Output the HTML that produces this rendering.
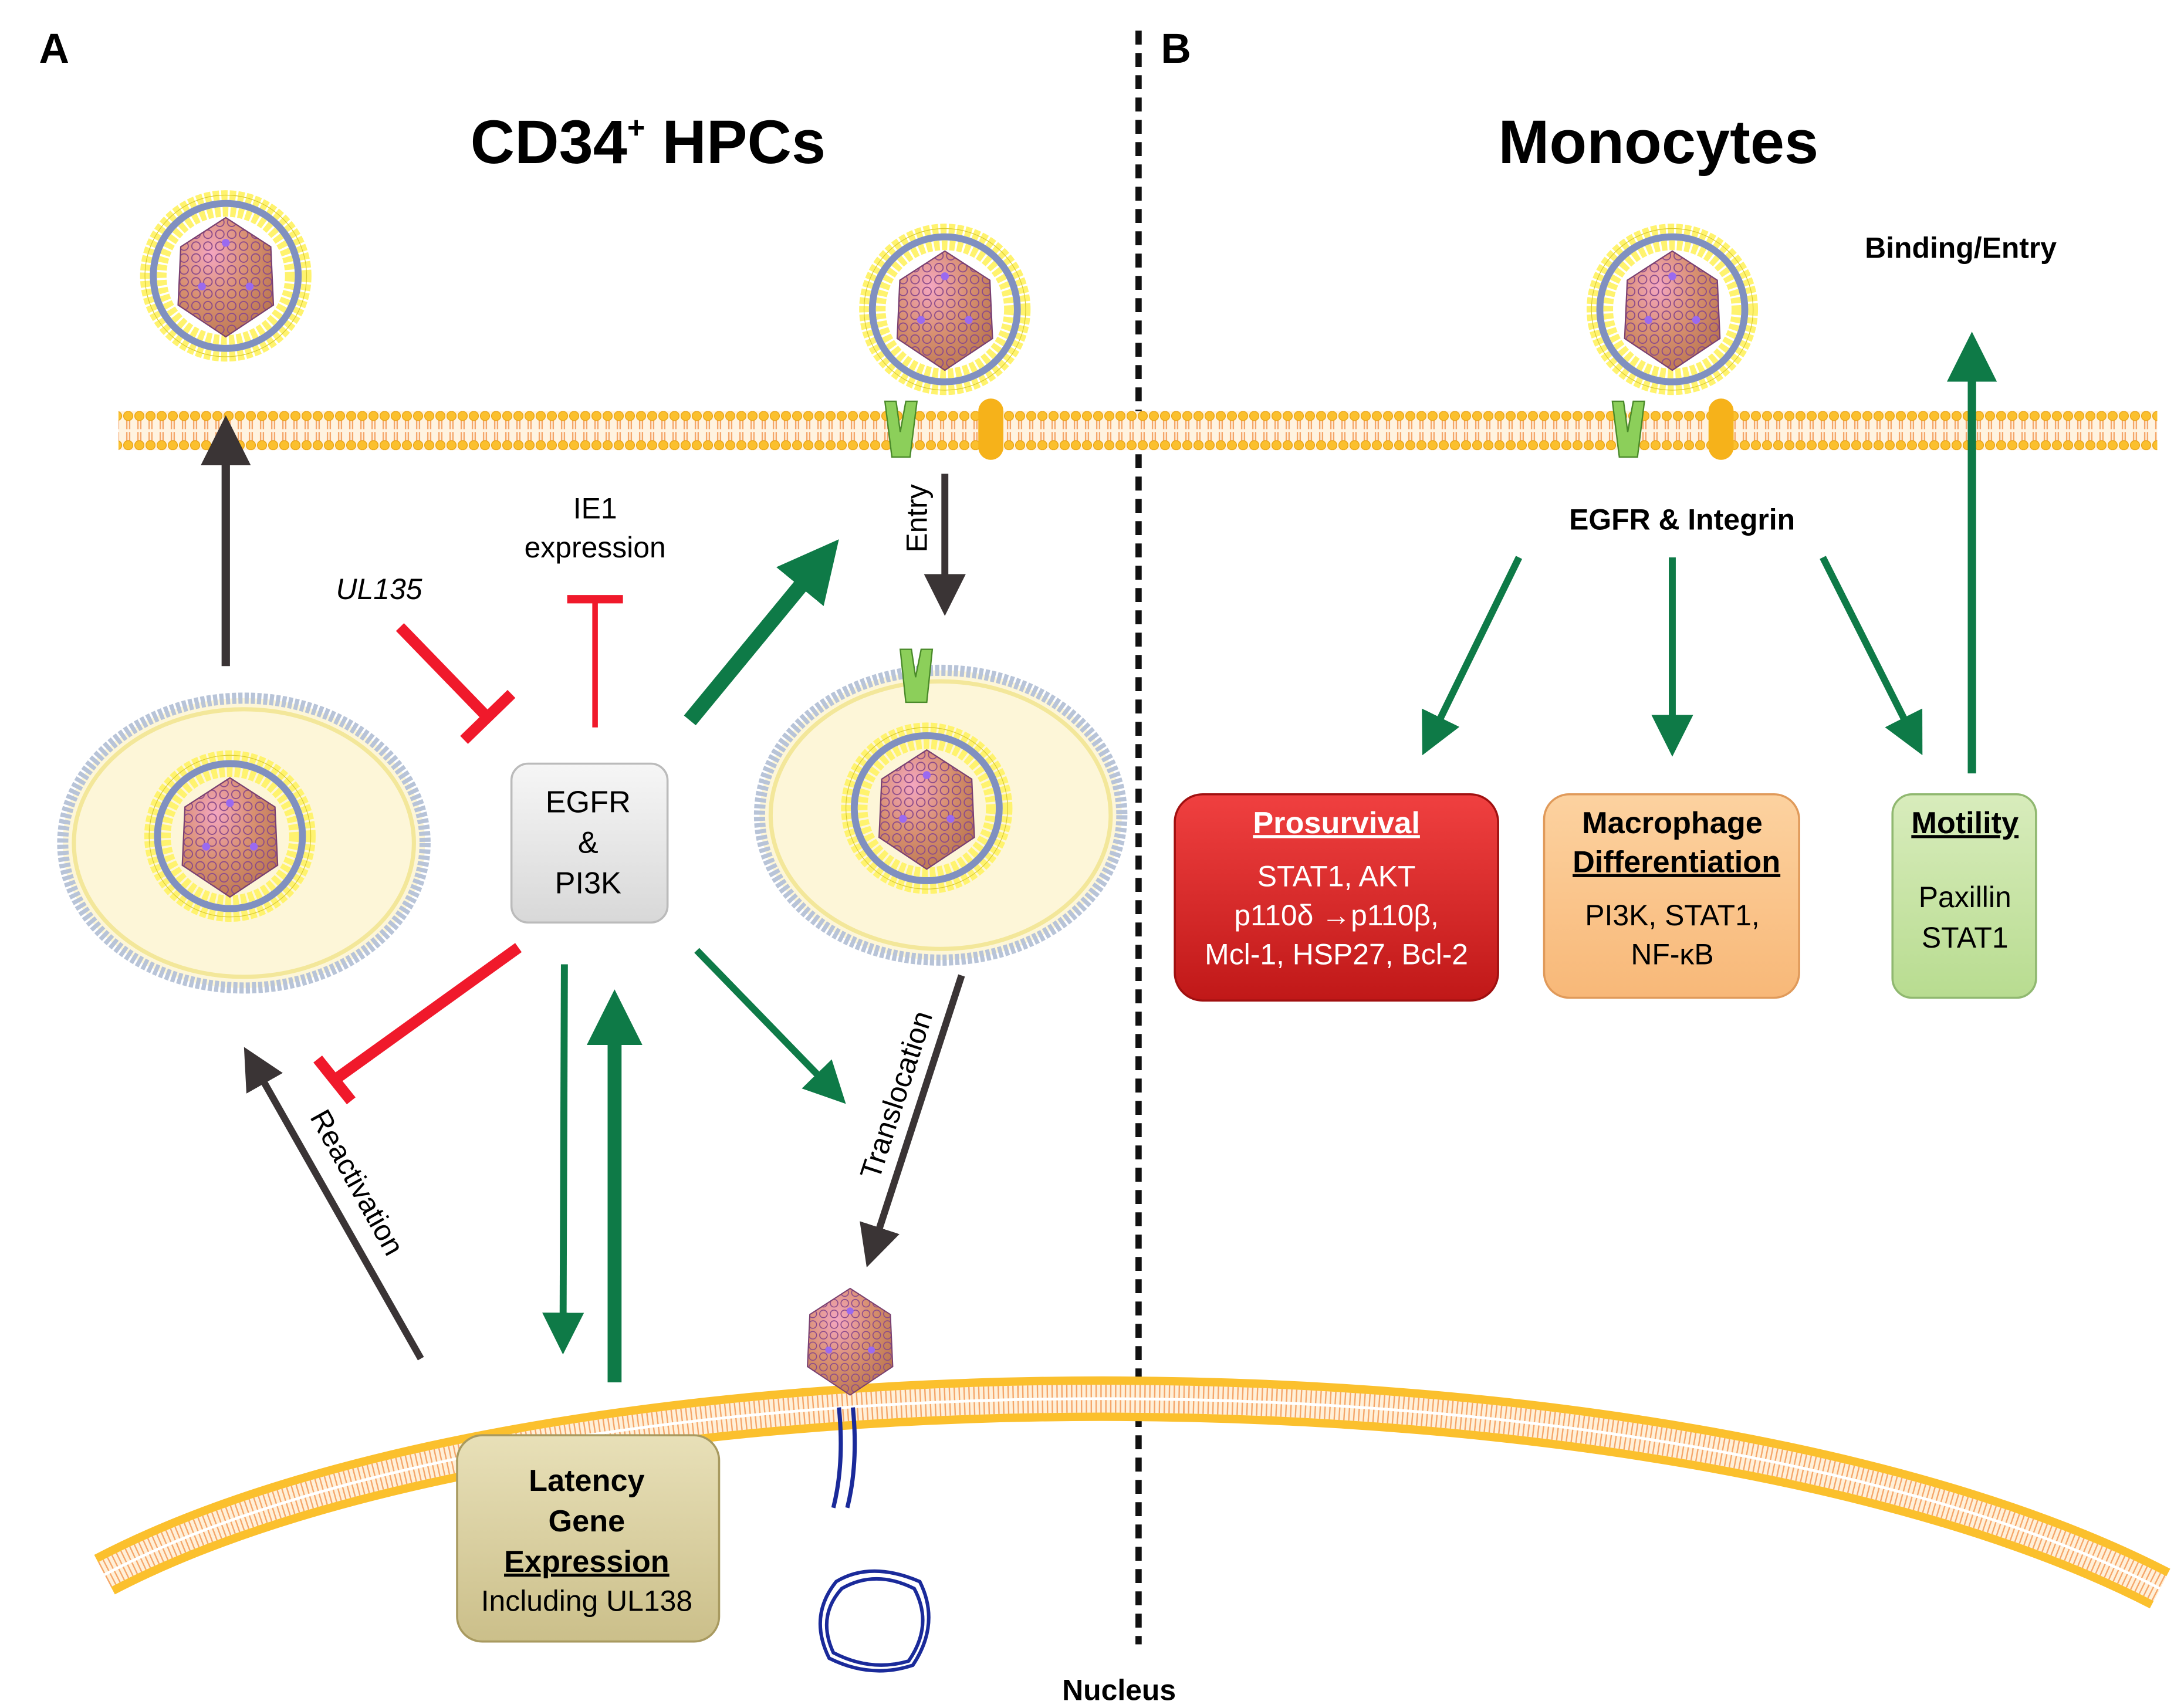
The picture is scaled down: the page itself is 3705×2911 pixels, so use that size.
<!DOCTYPE html>
<html><head><meta charset="utf-8"><style>html,body{margin:0;padding:0;background:#fff}svg{display:block}</style></head><body>
<svg width="3705" height="2911" viewBox="0 0 1560 1225.7" xmlns="http://www.w3.org/2000/svg" font-family="Liberation Sans, Arial, sans-serif">
<defs>
<pattern id="mem" x="0" y="295" width="8" height="28" patternUnits="userSpaceOnUse">
<rect width="8" height="28" fill="#fff3e0"/>
<line x1="3" y1="4" x2="3" y2="13" stroke="#f5a66a" stroke-width="1"/>
<line x1="5" y1="4" x2="5" y2="13" stroke="#f5a66a" stroke-width="1"/>
<line x1="3" y1="15" x2="3" y2="24" stroke="#f5a66a" stroke-width="1"/>
<line x1="5" y1="15" x2="5" y2="24" stroke="#f5a66a" stroke-width="1"/>
<circle cx="4" cy="3.5" r="3.3" fill="#fbc02d" stroke="#e8a317" stroke-width="0.6"/>
<circle cx="4" cy="24.5" r="3.3" fill="#fbc02d" stroke="#e8a317" stroke-width="0.6"/>
</pattern>
<radialGradient id="cap" cx="35%" cy="30%" r="80%"><stop offset="0" stop-color="#f4a6c0"/><stop offset="0.5" stop-color="#d89070"/><stop offset="1" stop-color="#b8744e"/></radialGradient>
<pattern id="capp" width="9" height="9" patternUnits="userSpaceOnUse"><rect width="9" height="9" fill="none"/><circle cx="4.5" cy="4.5" r="3.2" fill="none" stroke="#8a4a8a" stroke-width="0.8"/></pattern>
<g id="capsid">
<polygon points="0,-44 34,-22 36,22 0,46 -36,22 -34,-22" fill="url(#cap)"/>
<polygon points="0,-44 34,-22 36,22 0,46 -36,22 -34,-22" fill="url(#capp)" stroke="#7a4070" stroke-width="1"/>
<circle cx="0" cy="-25" r="3" fill="#9a6af0"/><circle cx="-18" cy="8" r="3" fill="#9a6af0"/><circle cx="18" cy="8" r="3" fill="#9a6af0"/>
</g>
<g id="virion">
<circle r="58" fill="none" stroke="#fff36e" stroke-width="7" stroke-dasharray="4.5 1.5"/>
<circle r="58" fill="none" stroke="#d9c930" stroke-width="0.5"/>
<circle r="52" fill="none" stroke="#8090c0" stroke-width="5"/>
<circle r="46" fill="none" stroke="#fff36e" stroke-width="7" stroke-dasharray="4 1.5"/>
<use href="#capsid" transform="scale(0.95)"/>
</g>
<marker id="ag" markerWidth="6" markerHeight="6" refX="4" refY="3" orient="auto" markerUnits="strokeWidth"><path d="M0,0 L6,3 L0,6 Z" fill="#0e7a47"/></marker>
<marker id="ad" markerWidth="6" markerHeight="6" refX="4" refY="3" orient="auto" markerUnits="strokeWidth"><path d="M0,0 L6,3 L0,6 Z" fill="#3a3435"/></marker>
<marker id="agt" markerWidth="4" markerHeight="4" refX="2" refY="2" orient="auto" markerUnits="strokeWidth"><path d="M0,0 L4,2 L0,4 Z" fill="#0e7a47"/></marker>
<linearGradient id="gbox" x1="0" y1="0" x2="0" y2="1"><stop offset="0" stop-color="#f6f6f6"/><stop offset="1" stop-color="#d8d8d8"/></linearGradient>
<linearGradient id="rbox" x1="0" y1="0" x2="0" y2="1"><stop offset="0" stop-color="#f04040"/><stop offset="1" stop-color="#c01818"/></linearGradient>
<linearGradient id="pbox" x1="0" y1="0" x2="0" y2="1"><stop offset="0" stop-color="#fcd2a0"/><stop offset="1" stop-color="#f8b878"/></linearGradient>
<linearGradient id="mbox" x1="0" y1="0" x2="0" y2="1"><stop offset="0" stop-color="#d8ecbc"/><stop offset="1" stop-color="#b8dc90"/></linearGradient>
<linearGradient id="lbox" x1="0" y1="0" x2="0" y2="1"><stop offset="0" stop-color="#e8e0b8"/><stop offset="1" stop-color="#cbbf8a"/></linearGradient>
</defs>

<text x="28" y="45" font-size="30" font-weight="bold">A</text>
<text x="833" y="45" font-size="30" font-weight="bold">B</text>
<line x1="817" y1="22" x2="817" y2="1180" stroke="#111" stroke-width="4.5" stroke-dasharray="10 6"/>
<text x="465" y="117" font-size="44" font-weight="bold" text-anchor="middle">CD34<tspan font-size="22" dy="-18">+</tspan><tspan dy="18"> HPCs</tspan></text>
<text x="1190" y="117" font-size="44" font-weight="bold" text-anchor="middle">Monocytes</text>

<rect x="85" y="295" width="1463" height="28" fill="url(#mem)"/>

<path d="M75,1130 C400,960 1200,960 1550,1140" fill="none" stroke="#fbc02d" stroke-width="32"/>
<path d="M75,1130 C400,960 1200,960 1550,1140" fill="none" stroke="#fff0d8" stroke-width="20"/>
<path d="M75,1130 C400,960 1200,960 1550,1140" fill="none" stroke="#f5a66a" stroke-width="20" stroke-dasharray="1 2.5"/>
<path d="M75,1130 C400,960 1200,960 1550,1140" fill="none" stroke="#fff" stroke-width="2"/>

<ellipse cx="175" cy="605" rx="130" ry="104" fill="#fdf6d8" stroke="#b8c4d8" stroke-width="8" stroke-dasharray="3 1.5"/>
<ellipse cx="175" cy="605" rx="122" ry="96" fill="none" stroke="#f3e79a" stroke-width="3"/>
<ellipse cx="675" cy="585" rx="130" ry="104" fill="#fdf6d8" stroke="#b8c4d8" stroke-width="8" stroke-dasharray="3 1.5"/>
<ellipse cx="675" cy="585" rx="122" ry="96" fill="none" stroke="#f3e79a" stroke-width="3"/>

<use href="#virion" x="162" y="198"/>
<use href="#virion" x="678" y="222"/>
<use href="#virion" x="1200" y="222"/>
<use href="#virion" x="165" y="600"/>
<use href="#virion" x="665" y="580"/>
<use href="#capsid" transform="translate(610,962) scale(0.85)"/>

<g fill="#8ccf5a" stroke="#4a8a2a" stroke-width="1">
<path d="M635,288 L643,288 L646,310 L650,288 L658,288 L653,328 L640,328 Z"/>
<path d="M1157,288 L1165,288 L1168,310 L1172,288 L1180,288 L1175,328 L1162,328 Z"/>
<path d="M646,466 L654,466 L657,486 L661,466 L669,466 L665,504 L650,504 Z"/>
</g>
<rect x="702" y="286" width="18" height="44" rx="9" fill="#f6b21a"/>
<rect x="1226" y="286" width="18" height="44" rx="9" fill="#f6b21a"/>

<path d="M602,1010 Q606,1050 598,1082 M612,1010 Q616,1050 608,1082" fill="none" stroke="#1a2a9a" stroke-width="3"/>
<path d="M600,1135 Q625,1120 660,1135 Q675,1165 655,1195 Q625,1205 595,1190 Q580,1160 600,1135 Z M604,1140 Q628,1126 656,1140 Q670,1166 652,1192 Q625,1200 598,1186 Q586,1160 604,1140Z" fill="none" stroke="#1a2a9a" stroke-width="2.5"/>

<line x1="162" y1="478" x2="162" y2="310" stroke="#3a3435" stroke-width="6" marker-end="url(#ad)"/>
<line x1="678" y1="340" x2="678" y2="432" stroke="#3a3435" stroke-width="5" marker-end="url(#ad)"/>
<line x1="690" y1="700" x2="625" y2="900" stroke="#3a3435" stroke-width="5" marker-end="url(#ad)"/>
<line x1="302" y1="975" x2="180" y2="760" stroke="#3a3435" stroke-width="5" marker-end="url(#ad)"/>

<line x1="495" y1="517" x2="588" y2="404" stroke="#0e7a47" stroke-width="11" marker-end="url(#agt)"/>
<line x1="405" y1="692" x2="404" y2="962" stroke="#0e7a47" stroke-width="5" marker-end="url(#ag)"/>
<line x1="441" y1="992" x2="441" y2="730" stroke="#0e7a47" stroke-width="10" marker-end="url(#agt)"/>
<line x1="500" y1="682" x2="600" y2="785" stroke="#0e7a47" stroke-width="5" marker-end="url(#ag)"/>
<line x1="1090" y1="400" x2="1025" y2="533" stroke="#0e7a47" stroke-width="5" marker-end="url(#ag)"/>
<line x1="1200" y1="400" x2="1200" y2="533" stroke="#0e7a47" stroke-width="5" marker-end="url(#ag)"/>
<line x1="1308" y1="400" x2="1375" y2="533" stroke="#0e7a47" stroke-width="5" marker-end="url(#ag)"/>
<line x1="1415" y1="555" x2="1415" y2="250" stroke="#0e7a47" stroke-width="6" marker-end="url(#ag)"/>

<g stroke="#f0192b" fill="none">
<line x1="287" y1="450" x2="350" y2="515" stroke-width="8"/>
<line x1="333" y1="531" x2="367" y2="498" stroke-width="8"/>
<line x1="427" y1="522" x2="427" y2="430" stroke-width="4"/>
<line x1="407" y1="430" x2="447" y2="430" stroke-width="6"/>
<line x1="372" y1="680" x2="240" y2="775" stroke-width="8"/>
<line x1="228" y1="760" x2="252" y2="790" stroke-width="8"/>
</g>

<text x="272" y="430" font-size="21" font-style="italic" text-anchor="middle">UL135</text>
<text x="427" y="372" font-size="21" text-anchor="middle">IE1</text>
<text x="427" y="400" font-size="21" text-anchor="middle">expression</text>
<text transform="translate(665,372) rotate(-90)" font-size="21" text-anchor="middle">Entry</text>
<text transform="translate(650,788) rotate(-72)" font-size="21" text-anchor="middle">Translocation</text>
<text transform="translate(250,852) rotate(61)" font-size="21" text-anchor="middle">Reactivation</text>
<text x="1207" y="380" font-size="21" font-weight="bold" text-anchor="middle">EGFR &amp; Integrin</text>
<text x="1407" y="185" font-size="21" font-weight="bold" text-anchor="middle">Binding/Entry</text>
<text x="803" y="1220" font-size="21" font-weight="bold" text-anchor="middle">Nucleus</text>

<rect x="367" y="548" width="112" height="114" rx="12" fill="url(#gbox)" stroke="#bbb" stroke-width="1.5"/>
<text x="422" y="583" font-size="22" text-anchor="middle">EGFR</text>
<text x="422" y="612" font-size="22" text-anchor="middle">&amp;</text>
<text x="422" y="641" font-size="22" text-anchor="middle">PI3K</text>

<rect x="843" y="570" width="232" height="148" rx="20" fill="url(#rbox)" stroke="#a01010" stroke-width="1.5"/>
<text x="959" y="598" font-size="22" font-weight="bold" fill="#fff" text-anchor="middle" text-decoration="underline">Prosurvival</text>
<text x="959" y="636" font-size="21" fill="#fff" text-anchor="middle">STAT1, AKT</text>
<text x="959" y="664" font-size="21" fill="#fff" text-anchor="middle">p110δ →p110β,</text>
<text x="959" y="692" font-size="21" fill="#fff" text-anchor="middle">Mcl-1, HSP27, Bcl-2</text>

<rect x="1108" y="570" width="183" height="146" rx="18" fill="url(#pbox)" stroke="#e09a5a" stroke-width="1.5"/>
<text x="1200" y="598" font-size="22" font-weight="bold" text-anchor="middle">Macrophage</text>
<text x="1203" y="626" font-size="22" font-weight="bold" text-anchor="middle" text-decoration="underline">Differentiation</text>
<text x="1200" y="664" font-size="21" text-anchor="middle">PI3K, STAT1,</text>
<text x="1200" y="692" font-size="21" text-anchor="middle">NF-κB</text>

<rect x="1358" y="570" width="103" height="146" rx="14" fill="url(#mbox)" stroke="#90b870" stroke-width="1.5"/>
<text x="1410" y="598" font-size="22" font-weight="bold" text-anchor="middle" text-decoration="underline">Motility</text>
<text x="1410" y="651" font-size="21" text-anchor="middle">Paxillin</text>
<text x="1410" y="680" font-size="21" text-anchor="middle">STAT1</text>

<rect x="328" y="1030" width="188" height="148" rx="18" fill="url(#lbox)" stroke="#a89a60" stroke-width="1.5"/>
<text x="421" y="1070" font-size="22" font-weight="bold" text-anchor="middle">Latency</text>
<text x="421" y="1099" font-size="22" font-weight="bold" text-anchor="middle">Gene</text>
<text x="421" y="1128" font-size="22" font-weight="bold" text-anchor="middle" text-decoration="underline">Expression</text>
<text x="421" y="1156" font-size="21" text-anchor="middle">Including UL138</text>
</svg>
</body></html>
